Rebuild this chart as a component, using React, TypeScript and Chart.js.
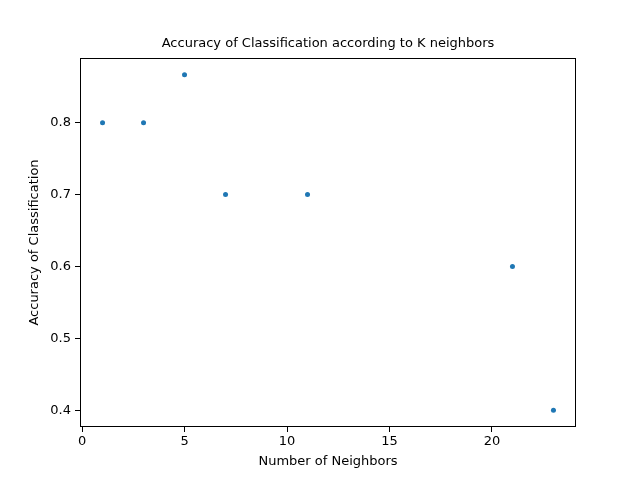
import React, { useEffect, useRef } from "react";
import Chart from "chart.js/auto";

const neighbors: number[] = [1, 3, 5, 7, 11, 21, 23];
const accuracy: number[] = [0.8, 0.8, 0.8667, 0.7, 0.7, 0.6, 0.4];
const xTicks: number[] = [0, 5, 10, 15, 20];
const yTicks: number[] = [0.4, 0.5, 0.6, 0.7, 0.8];

const FONT = "'DejaVu Sans', sans-serif";

const App: React.FC = () => {
  const chartRef = useRef<HTMLCanvasElement | null>(null);
  const chartInstance = useRef<Chart | null>(null);

  useEffect(() => {
    if (!chartRef.current) return;
    if (chartInstance.current) chartInstance.current.destroy();
    const ctx = chartRef.current.getContext("2d");
    if (!ctx) return;

    // frame + titles drawn like matplotlib
    const textPlugin = {
      id: "mplText",
      afterDraw(chart: any) {
        const c = chart.ctx;
        const a = chart.chartArea;
        c.save();
        c.strokeStyle = "#000";
        c.lineWidth = 1;
        c.strokeRect(a.left + 0.5, a.top + 0.5, a.right - a.left - 1, a.bottom - a.top - 1);
        c.fillStyle = "#000";
        c.font = `13px ${FONT}`;
        c.textAlign = "center";
        c.textBaseline = "middle";
        c.fillText("Accuracy of Classification according to K neighbors", (a.left + a.right) / 2, 44);
        c.fillText("Number of Neighbors", (a.left + a.right) / 2, 462);
        c.translate(35, (a.top + a.bottom) / 2);
        c.rotate(-Math.PI / 2);
        c.fillText("Accuracy of Classification", 0, 0);
        c.restore();
      },
    };

    chartInstance.current = new Chart(ctx, {
      type: "scatter",
      data: {
        datasets: [
          {
            data: neighbors.map((x, i) => ({ x, y: accuracy[i] })),
            backgroundColor: "#1f77b4",
            borderColor: "#1f77b4",
            pointRadius: 2.5,
            pointBorderWidth: 0,
          },
        ],
      },
      options: {
        responsive: false,
        animation: false,
        layout: { padding: { left: 0, right: 64, top: 58, bottom: 0 } },
        plugins: { legend: { display: false }, title: { display: false }, tooltip: { enabled: false } },
        scales: {
          x: {
            type: "linear",
            min: -0.1,
            max: 24.1,
            afterBuildTicks: (s: any) => {
              s.ticks = xTicks.map((v) => ({ value: v }));
            },
            afterFit: (s: any) => {
              s.height = 53;
            },
            grid: { drawOnChartArea: false, tickLength: 5, color: "#000" },
            border: { display: false },
            ticks: { color: "#000", font: { family: FONT, size: 13 }, padding: 2, maxRotation: 0 },
          },
          y: {
            type: "linear",
            min: 0.3767,
            max: 0.89,
            afterBuildTicks: (s: any) => {
              s.ticks = yTicks.map((v) => ({ value: v }));
            },
            afterFit: (s: any) => {
              s.width = 80;
            },
            grid: { drawOnChartArea: false, tickLength: 5, color: "#000" },
            border: { display: false },
            ticks: {
              color: "#000",
              font: { family: FONT, size: 13 },
              padding: 4,
              callback: (v: any) => Number(v).toFixed(1),
            },
          },
        },
      },
      plugins: [textPlugin],
    });

    return () => {
      if (chartInstance.current) {
        chartInstance.current.destroy();
        chartInstance.current = null;
      }
    };
  }, []);

  return (
    <div style={{ position: "fixed", left: 0, top: 0, width: 640, height: 480, background: "#fff" }}>
      <canvas ref={chartRef} width={640} height={480} />
    </div>
  );
};

export default App;
